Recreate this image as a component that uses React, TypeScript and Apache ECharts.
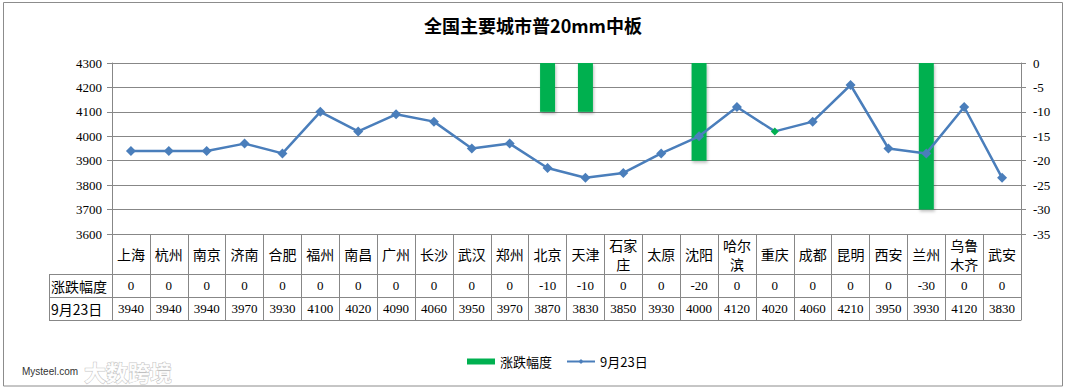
import React, { useEffect, useRef } from "react";
import * as echarts from "echarts";

const cities = ["上海", "杭州", "南京", "济南", "合肥", "福州", "南昌", "广州", "长沙", "武汉", "郑州", "北京", "天津", "石家庄", "太原", "沈阳", "哈尔滨", "重庆", "成都", "昆明", "西安", "兰州", "乌鲁木齐", "武安"];
const changes = [0, 0, 0, 0, 0, 0, 0, 0, 0, 0, 0, -10, -10, 0, 0, -20, 0, 0, 0, 0, 0, -30, 0, 0];
const prices = [3940, 3940, 3940, 3970, 3930, 4100, 4020, 4090, 4060, 3950, 3970, 3870, 3830, 3850, 3930, 4000, 4120, 4020, 4060, 4210, 3950, 3930, 4120, 3830];
const changeName = "涨跌幅度";
const priceName = "9月23日";
const titleText = "全国主要城市普20mm中板";
const priceAxis = { min: 3600, max: 4300, interval: 100 };
const changeAxis = { min: -35, max: 0, interval: 5 };
const highlightCity = "重庆";

const GRID = "#878787";
const NUM_FONT = "'Liberation Serif', 'DejaVu Serif', serif";
const CJK_FONT = "'Noto Sans CJK SC', 'Noto Sans', sans-serif";

function splitName(n: string) {
  if (n.length <= 2) return n;
  return n.slice(0, 2) + "\n" + n.slice(2);
}

export default function App() {
  const ref = useRef<HTMLDivElement>(null);
  useEffect(() => {
    if (!ref.current) return;
    const chart = echarts.init(ref.current, undefined, { renderer: "svg" });
    const L = 112;
    const W = 909;
    const rowAxis = (gridIndex: number, len: number, fmt: (v: string, i: number) => string, font: any) => ({
      type: "category",
      gridIndex,
      data: cities,
      position: "bottom",
      axisLine: { show: true, lineStyle: { color: GRID, width: 1 } },
      axisTick: { show: true, inside: true, length: len, interval: 0, lineStyle: { color: GRID, width: 1 } },
      axisLabel: {
        show: true,
        inside: true,
        interval: 0,
        margin: len / 2,
        verticalAlign: "middle",
        color: "#000",
        formatter: fmt,
        ...font,
      },
      splitLine: { show: false },
    });
    const hiddenY = (gridIndex: number) => ({ type: "value", gridIndex, show: false });
    const option: any = {
      animation: false,
      backgroundColor: "#ffffff",
      textStyle: { fontFamily: CJK_FONT },
      title: {
        text: titleText,
        left: "center",
        top: 11,
        textStyle: { fontSize: 18, fontWeight: "bold", color: "#000", fontFamily: CJK_FONT },
      },
      legend: {
        left: 462,
        top: 350,
        itemWidth: 28,
        itemHeight: 6,
        itemGap: 14,
        textStyle: { fontSize: 13, color: "#000", fontFamily: CJK_FONT },
        data: [{ name: changeName, icon: "rect" }, { name: priceName }],
      },
      grid: [
        { left: L, top: 63, width: W, height: 171, containLabel: false, outerBoundsMode: "none" },
        { left: L, top: 234, width: W, height: 40, containLabel: false, outerBoundsMode: "none" },
        { left: L, top: 274, width: W, height: 23, containLabel: false, outerBoundsMode: "none" },
        { left: L, top: 297, width: W, height: 23, containLabel: false, outerBoundsMode: "none" },
      ],
      xAxis: [
        {
          type: "category",
          gridIndex: 0,
          data: cities,
          axisLine: { show: true, lineStyle: { color: GRID, width: 1 } },
          axisTick: { show: false },
          axisLabel: { show: false },
          splitLine: { show: false },
        },
        rowAxis(1, 40, (v: string) => splitName(v), { fontSize: 14, lineHeight: 19, fontFamily: CJK_FONT }),
        rowAxis(2, 23, (_v: string, i: number) => String(changes[i]), { fontSize: 13, fontFamily: NUM_FONT }),
        rowAxis(3, 23, (_v: string, i: number) => String(prices[i]), { fontSize: 13, fontFamily: NUM_FONT }),
      ],
      yAxis: [
        {
          type: "value",
          gridIndex: 0,
          position: "left",
          min: priceAxis.min,
          max: priceAxis.max,
          interval: priceAxis.interval,
          axisLine: { show: true, lineStyle: { color: GRID, width: 1 } },
          axisTick: { show: true, length: 5, lineStyle: { color: GRID } },
          axisLabel: { margin: 10, fontSize: 13, color: "#000", fontFamily: NUM_FONT, formatter: (v: number) => String(v) },
          splitLine: { show: true, lineStyle: { color: GRID, width: 1 } },
        },
        {
          type: "value",
          gridIndex: 0,
          position: "right",
          min: changeAxis.min,
          max: changeAxis.max,
          interval: changeAxis.interval,
          axisLine: { show: true, lineStyle: { color: GRID, width: 1 } },
          axisTick: { show: true, length: 5, lineStyle: { color: GRID } },
          axisLabel: { margin: 12, fontSize: 13, color: "#000", fontFamily: NUM_FONT, formatter: (v: number) => String(v) },
          splitLine: { show: false },
        },
        hiddenY(1),
        hiddenY(2),
        hiddenY(3),
      ],
      series: [
        {
          name: changeName,
          type: "bar",
          xAxisIndex: 0,
          yAxisIndex: 1,
          data: changes,
          barWidth: 15,
          itemStyle: {
            color: "#00B050",
            shadowColor: "rgba(0,0,0,0.25)",
            shadowBlur: 3,
            shadowOffsetX: 1,
            shadowOffsetY: 2,
          },
          z: 2,
        },
        {
          name: priceName,
          type: "line",
          xAxisIndex: 0,
          yAxisIndex: 0,
          data: prices.map((v, i) =>
            cities[i] === highlightCity
              ? { value: v, symbolSize: 8, itemStyle: { color: "#00B050" } }
              : v
          ),
          symbol: "diamond",
          symbolSize: 10,
          lineStyle: { color: "#4A7EBB", width: 2.5 },
          itemStyle: { color: "#4A7EBB" },
          z: 3,
        },
      ],
      graphic: [
        {
          type: "rect",
          shape: { x: 3.5, y: 2.5, width: 1059, height: 383.5 },
          style: { fill: "none", stroke: "#8c8c8c", lineWidth: 1 },
          silent: true,
        },
        { type: "line", shape: { x1: 49, y1: 274.5, x2: 112, y2: 274.5 }, style: { stroke: GRID, lineWidth: 1 } },
        { type: "line", shape: { x1: 49, y1: 297.5, x2: 112, y2: 297.5 }, style: { stroke: GRID, lineWidth: 1 } },
        { type: "line", shape: { x1: 49, y1: 320.5, x2: 112, y2: 320.5 }, style: { stroke: GRID, lineWidth: 1 } },
        { type: "line", shape: { x1: 49.5, y1: 274, x2: 49.5, y2: 321 }, style: { stroke: GRID, lineWidth: 1 } },
        {
          type: "text",
          x: 51,
          y: 286,
          style: { text: changeName, font: "14px " + CJK_FONT, fill: "#000", verticalAlign: "middle", align: "left" },
        },
        {
          type: "text",
          x: 51,
          y: 309,
          style: { text: priceName, font: "14px " + CJK_FONT, fill: "#000", verticalAlign: "middle", align: "left" },
        },
        {
          type: "text",
          x: 84,
          y: 371,
          style: {
            text: "大数跨境",
            font: "bold 22px " + CJK_FONT,
            fill: "rgba(255,255,255,0.9)",
            stroke: "rgba(150,150,150,0.6)",
            lineWidth: 1,
            verticalAlign: "middle",
          },
        },
        {
          type: "text",
          x: 22,
          y: 371,
          style: { text: "Mysteel.com", font: "10px 'Liberation Sans', sans-serif", fill: "#333", verticalAlign: "middle" },
        },
      ],
    };
    chart.setOption(option);
    return () => chart.dispose();
  }, []);
  return (
    <div
      ref={ref}
      style={{ position: "absolute", left: 0, top: 0, width: 1066, height: 389, background: "#fff" }}
    />
  );
}
